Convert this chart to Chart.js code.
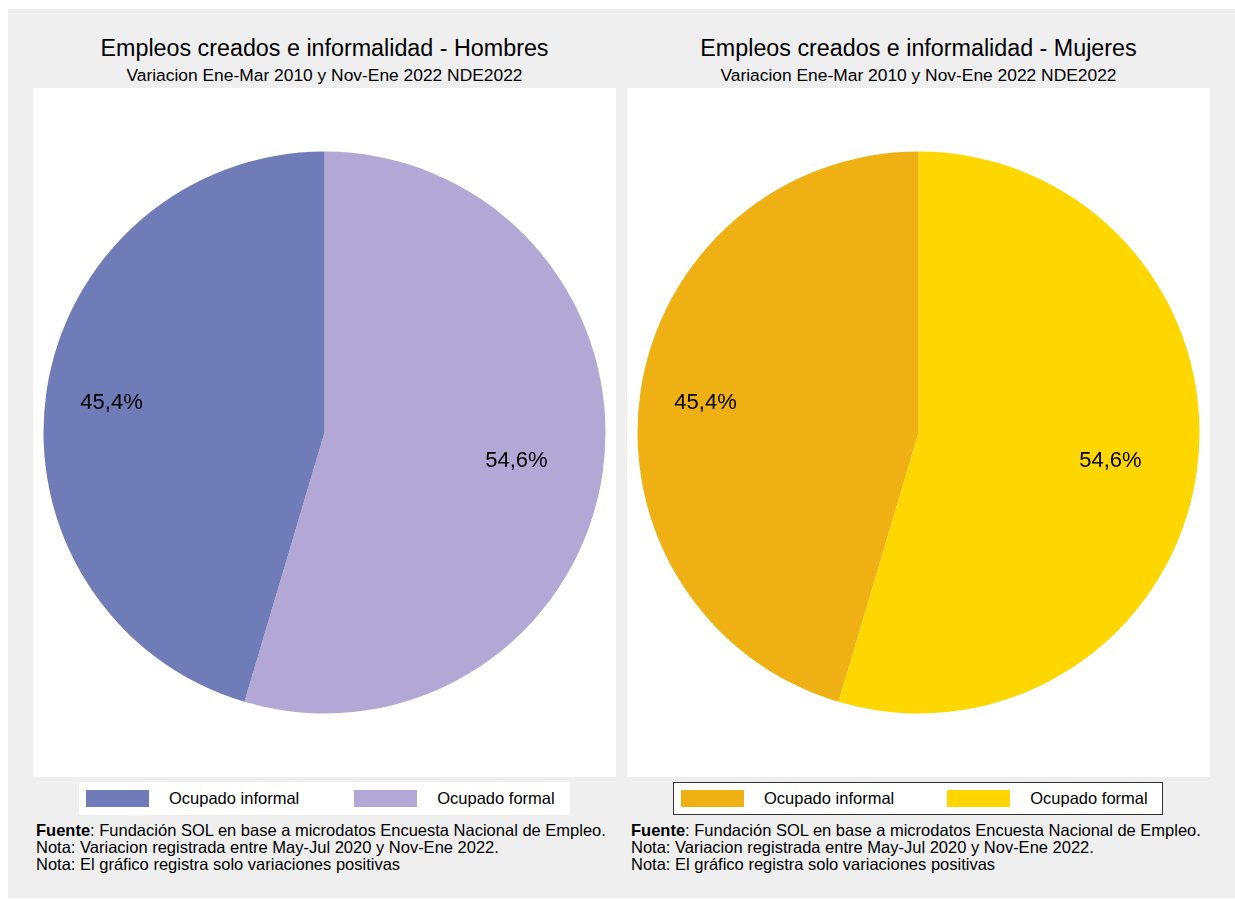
<!DOCTYPE html>
<html>
<head>
<meta charset="utf-8">
<script src="https://cdn.jsdelivr.net/npm/chart.js@4.4.1/dist/chart.umd.min.js"></script>
<style>
  html, body { margin:0; padding:0; background:#ffffff; width:1235px; height:899px; overflow:hidden;
    font-family:"Liberation Sans", Arial, Helvetica, sans-serif; color:#000; }
  #bg { position:absolute; left:8px; top:9px; width:1227px; height:889px; background:#efefef; }
  .title { position:absolute; width:583px; text-align:center; font-size:23.3px; line-height:23.3px; white-space:nowrap; }
  .subtitle { position:absolute; width:583px; text-align:center; font-size:17.4px; line-height:17.4px; white-space:nowrap; }
  .plot { position:absolute; top:88px; width:583px; height:689px; background:#ffffff; }
  .plot canvas { position:absolute; left:0; top:0; }
  .legend { position:absolute; top:782px; height:33px; background:#ffffff; box-sizing:border-box;
    display:flex; align-items:center; font-size:16.5px; white-space:nowrap; }
  .legend .sw { display:inline-block; width:63px; height:17px; margin-right:20px; }
  .legend .item { display:flex; align-items:center; }
  .notes { position:absolute; top:822px; font-size:16.5px; line-height:17px; white-space:nowrap; }
</style>
</head>
<body>
<div id="bg"></div>

<div class="title" style="left:33px; top:37px;" id="t1"></div>
<div class="subtitle" style="left:33px; top:66.5px;" id="s1"></div>
<div class="plot" style="left:33px;"><canvas id="c1" width="583" height="689"></canvas></div>
<div class="legend" id="lg1" style="left:79px; width:491px; padding-left:7px;"></div>
<div class="notes" id="n1" style="left:36px;"></div>

<div class="title" style="left:627px; top:37px;" id="t2"></div>
<div class="subtitle" style="left:627px; top:66.5px;" id="s2"></div>
<div class="plot" style="left:627px;"><canvas id="c2" width="583" height="689"></canvas></div>
<div class="legend" id="lg2" style="left:673px; width:490px; padding-left:7px; border:1px solid #333;"></div>
<div class="notes" id="n2" style="left:631px;"></div>

<script>
// ---- Data ----
const categories = ['Ocupado formal', 'Ocupado informal'];   // clockwise from 12 o'clock
const hombresValues = [54.6, 45.4];
const mujeresValues = [54.6, 45.4];
const hombresColors = ['#b3a7d6', '#6f7cb7'];
const mujeresColors = ['#ffd700', '#eeb013'];
const titles = ['Empleos creados e informalidad - Hombres', 'Empleos creados e informalidad - Mujeres'];
const subtitleText = 'Variacion Ene-Mar 2010 y Nov-Ene 2022 NDE2022';
const noteLines = [
  ['Fuente', ': Fundación SOL en base a microdatos Encuesta Nacional de Empleo.'],
  ['', 'Nota: Variacion registrada entre May-Jul 2020 y Nov-Ene 2022.'],
  ['', 'Nota: El gráfico registra solo variaciones positivas']
];

const labelPlugin = {
  id: 'sliceLabels',
  afterDatasetsDraw(chart, args, opts) {
    const ctx = chart.ctx;
    const meta = chart.getDatasetMeta(0);
    const values = chart.data.datasets[0].data;
    ctx.save();
    ctx.font = '22px "Liberation Sans", Arial, sans-serif';
    ctx.fillStyle = '#000';
    ctx.textAlign = 'center';
    ctx.textBaseline = 'middle';
    meta.data.forEach((arc, i) => {
      const p = arc.getProps(['x','y','startAngle','endAngle','outerRadius'], true);
      const mid = (p.startAngle + p.endAngle) / 2;
      const r = p.outerRadius * opts.factors[i];
      const txt = values[i].toFixed(1).replace('.', ',') + '%';
      ctx.fillText(txt, p.x + Math.cos(mid) * r, p.y + Math.sin(mid) * r + 1);
    });
    ctx.restore();
  }
};

function makePie(id, values, colors) {
  return new Chart(document.getElementById(id), {
    type: 'pie',
    data: { labels: categories, datasets: [{ data: values, backgroundColor: colors, borderWidth: 0 }] },
    options: {
      responsive: false, animation: false, devicePixelRatio: 1,
      layout: { padding: 10.5 },
      plugins: { legend: { display: false }, tooltip: { enabled: false },
        sliceLabels: { factors: [0.69, 0.766] } }
    },
    plugins: [labelPlugin]
  });
}

function buildLegend(id, chart, gap) {
  const el = document.getElementById(id);
  const ds = chart.data.datasets[0];
  const order = chart.data.labels.map((l, i) => i).reverse();
  order.forEach((i, k) => {
    const item = document.createElement('div');
    item.className = 'item';
    if (k > 0) item.style.marginLeft = gap + 'px';
    const sw = document.createElement('span');
    sw.className = 'sw';
    sw.style.background = ds.backgroundColor[i];
    const tx = document.createElement('span');
    tx.textContent = chart.data.labels[i];
    item.appendChild(sw); item.appendChild(tx);
    el.appendChild(item);
  });
}

function buildNotes(id) {
  const el = document.getElementById(id);
  el.innerHTML = noteLines.map(([b, t]) => (b ? '<b>' + b + '</b>' : '') + t).join('<br>');
}

document.getElementById('t1').textContent = titles[0];
document.getElementById('t2').textContent = titles[1];
document.getElementById('s1').textContent = subtitleText;
document.getElementById('s2').textContent = subtitleText;

const ch1 = makePie('c1', hombresValues, hombresColors);
const ch2 = makePie('c2', mujeresValues, mujeresColors);
buildLegend('lg1', ch1, 55);
buildLegend('lg2', ch2, 53);
buildNotes('n1');
buildNotes('n2');
</script>
</body>
</html>
